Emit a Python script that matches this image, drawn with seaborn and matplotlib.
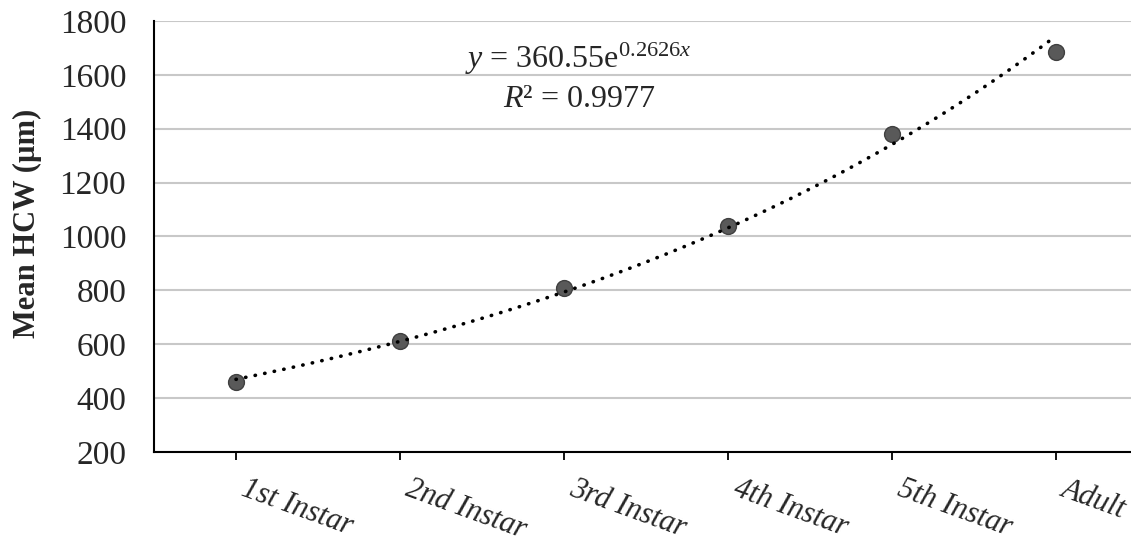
import numpy as np
import matplotlib
matplotlib.use("Agg")
import matplotlib.pyplot as plt
import matplotlib.transforms as mtransforms
import seaborn as sns

# podaci očitani sa slike
stages = ["1st Instar", "2nd Instar", "3rd Instar", "4th Instar", "5th Instar", "Adult"]
mean_hcw = [460, 612, 808, 1040, 1380, 1685]
y_ticks = [200, 400, 600, 800, 1000, 1200, 1400, 1600, 1800]
eq_text = r"$y$ = 360.55e$^{0.2626x}$"
r2_text = r"$R$² = 0.9977"

sns.set_style("white")
plt.rcParams["font.family"] = ["Liberation Serif", "DejaVu Serif"]
plt.rcParams["mathtext.fontset"] = "custom"
plt.rcParams["mathtext.rm"] = "Liberation Serif"
plt.rcParams["mathtext.it"] = "Liberation Serif:italic"

fig = plt.figure(figsize=(11.31, 5.48), dpi=100)
ax = fig.add_axes([154 / 1131, 96 / 548, 984 / 1131, 431 / 548])

pos = np.arange(len(stages))

# eksponencijalni trend (fit iz podataka, x = 1..6)
b, a = np.polyfit(pos + 1, np.log(mean_hcw), 1)
xs = np.linspace(0, len(stages) - 1, 200)
trend = np.exp(a) * np.exp(b * (xs + 1))

sns.scatterplot(x=pos, y=mean_hcw, ax=ax, s=130, color="#595959",
                edgecolor="#404040", linewidth=1, zorder=3)
ax.plot(xs, trend, color="black", lw=2.6, linestyle=(0, (0.1, 2.6)),
        dash_capstyle="round", zorder=4)

ax.set_xlim(-0.5, 5.5)
ax.set_ylim(200, 1800)
ax.set_yticks(y_ticks)
ax.set_xticks(pos)
ax.set_xticklabels(stages, rotation=-20, ha="left", va="top",
                   rotation_mode="anchor", style="italic", fontsize=22)
ax.tick_params(axis="x", length=6, width=1.3, color="black", direction="out",
               bottom=True, pad=10)
ax.tick_params(axis="y", length=0, labelsize=24, pad=20)
ax.grid(axis="y", color="#c8c8c8", lw=1.5)
ax.set_axisbelow(True)

# pomak oznaka malo udesno, kao u Excelu
pomak = mtransforms.ScaledTranslation(8 / 72, 0, fig.dpi_scale_trans)
for lbl in ax.get_xticklabels():
    lbl.set_transform(lbl.get_transform() + pomak)

for s in ["top", "right"]:
    ax.spines[s].set_visible(False)
for s in ["left", "bottom"]:
    ax.spines[s].set_color("black")
    ax.spines[s].set_linewidth(1.5)

ax.set_ylabel("Mean HCW (µm)", fontsize=22, fontweight="bold")
ax.yaxis.set_label_coords((42 - 154) / 984, 0.531)

ax.text(2.09, 1625, eq_text, ha="center", va="baseline", fontsize=23)
ax.text(2.09, 1480, r2_text, ha="center", va="baseline", fontsize=23)

fig.savefig("out.png", dpi=100)
